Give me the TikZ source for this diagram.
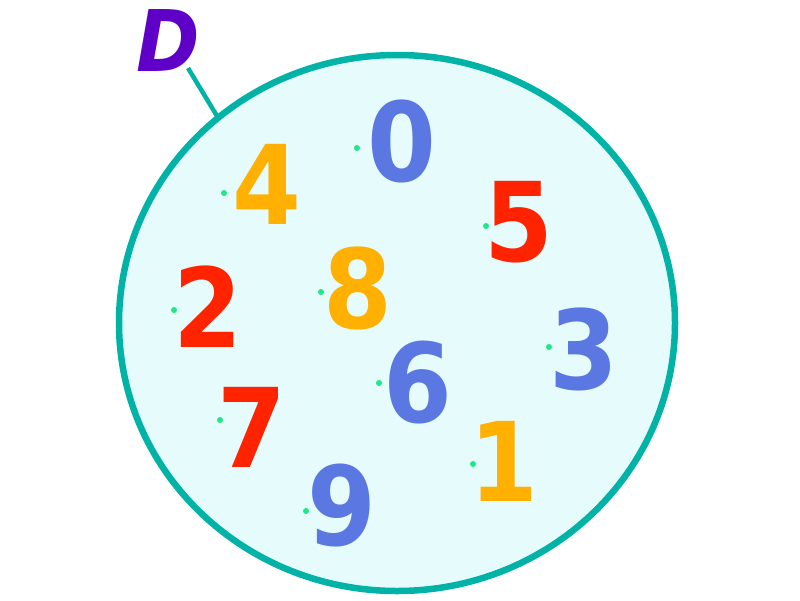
\documentclass[tikz,border=0pt]{standalone}
\usepackage{fontspec}
\setmainfont{DejaVu Sans}
\newfontfamily\condfont{DejaVu Sans Condensed}
\definecolor{cblue}{HTML}{5B78E2}
\definecolor{corange}{HTML}{FFB000}
\definecolor{cred}{HTML}{FF2300}
\definecolor{cteal}{HTML}{00B3A6}
\definecolor{cfill}{HTML}{E6FCFC}
\definecolor{cpurple}{HTML}{5E00C8}
\definecolor{cdot}{HTML}{1FE884}
\begin{document}
\begin{tikzpicture}[x=1pt,y=-1pt,
  digit/.style={inner sep=0pt,font=\condfont\fontsize{110}{110}\selectfont\bfseries},
  pt/.style={fill=cdot,circle,inner sep=0pt,minimum size=6pt}]
\useasboundingbox (0,0) rectangle (800,600);
\draw[cteal,line width=6.5pt,fill=cfill] (397,323) ellipse [x radius=278,y radius=268];
\node[inner sep=0pt,text=cpurple,font=\condfont\fontsize{85}{85}\selectfont\bfseries\itshape] (D) at (168,41) {D};
\coordinate (Dtail) at (188,68);
\coordinate (Dhead) at (217,116);
\draw[cteal,line width=4.5pt] (Dtail) -- (Dhead);
\foreach \n/\c/\x/\y/\dx/\dy in {0/cblue/402/141/357/148, 4/corange/267/184/224/193, 5/cred/519/222/486/226, 8/corange/358/288/321/292, 2/cred/208/307/174/310, 3/cblue/584/349/549/347, 6/cblue/418/383/379/383, 7/cred/252/427/220/420, 1/corange/504/461/473/464, 9/cblue/342/506/306/511}{
  \node[digit,text=\c] (d\n) at (\x,\y) {\n};
  \node[pt] (p\n) at (\dx,\dy) {};
}
\end{tikzpicture}
\end{document}
